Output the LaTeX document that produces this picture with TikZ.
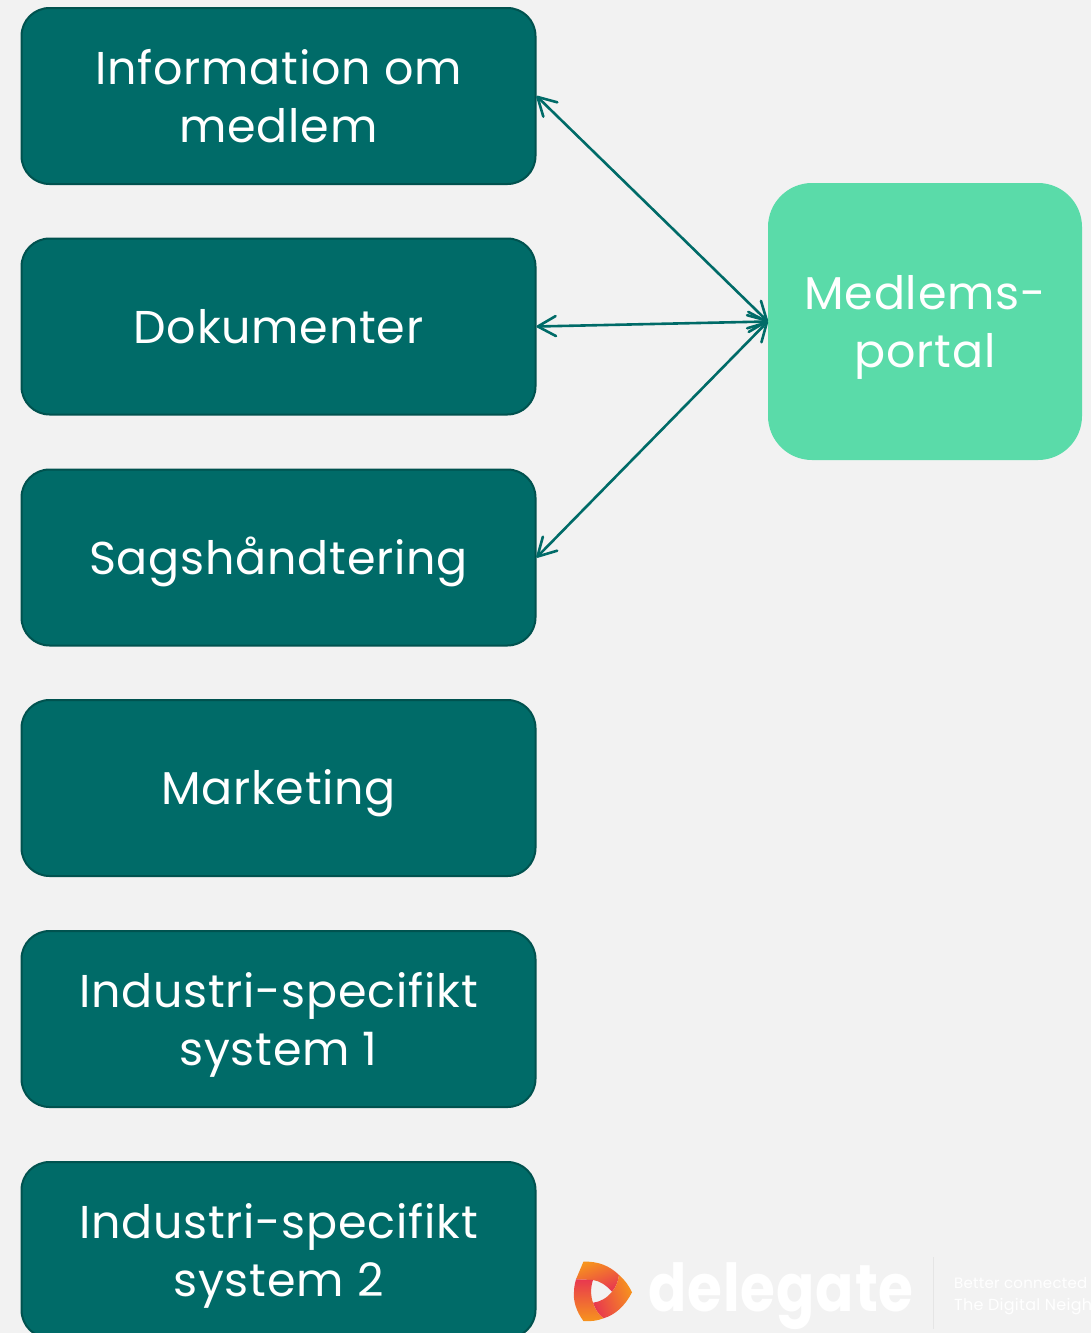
\documentclass[tikz,border=0pt]{standalone}
\usepackage{fontspec}
\setmainfont[LetterSpace=1.7]{Poppins}
\usetikzlibrary{arrows.meta}
\definecolor{bg}{HTML}{F2F2F2}
\definecolor{teal1}{HTML}{006B68}
\definecolor{teal2}{HTML}{00524F}
\definecolor{mint}{HTML}{5ADBA9}
\definecolor{lorange}{HTML}{F7941D}
\definecolor{lred}{HTML}{E8384F}
\newcommand{\linestrut}{\rule[-12pt]{0pt}{58pt}}
\tikzset{
  labeltext/.style={text=white,align=center,font=\fontsize{46}{58}\selectfont,execute at end node=\linestrut},
  box/.style={labeltext,draw=teal2,line width=2pt,fill=teal1,rounded corners=28pt,minimum width=514pt,minimum height=176pt,inner sep=0pt},
  portal/.style={labeltext,fill=mint,rounded corners=44pt,minimum width=314pt,minimum height=277pt,inner sep=0pt},
  link/.style={draw=teal1,line width=2.6pt,{Straight Barb[length=18pt,width=20pt,line width=2.6pt,round]}-{Straight Barb[length=18pt,width=20pt,line width=2.6pt,round]}},
  swirl/.style={shading=axis,left color=lorange,right color=lred}
}
\begin{document}
\begin{tikzpicture}[x=1pt,y=-1pt]
\useasboundingbox (0,0) rectangle (1091,1333);
\clip (0,0) rectangle (1091,1333);
\fill[bg] (0,0) rectangle (1091,1333);
\node[box] (a) at (278.5,96) {\linestrut Information om\\medlem};
\node[box] (b) at (278.5,326.5) {Dokumenter};
\node[box] (c) at (278.5,557.5) {Sagshåndtering};
\node[box] (d) at (278.5,788) {Marketing};
\node[box] (e) at (278.5,1019) {\linestrut Industri-specifikt\\system 1};
\node[box] (f) at (278.5,1250) {\linestrut Industri-specifikt\\system 2};
\node[portal] (p) at (925,321.5) {\linestrut Medlems-\\portal};
\draw[link] (a.east) -- (p.west);
\draw[link] (b.east) -- (p.west);
\draw[link] (c.east) -- (p.west);
% logo
\path[swirl,shading angle=20] (576,1279.3) -- (583.4,1261.7) .. controls (598,1261) and (610,1266) .. (619,1275) .. controls (618,1282) and (616,1287) .. (612,1291.7) .. controls (606,1285) and (600,1281) .. (593,1280) -- cycle;
\path[swirl,shading angle=-70] (619,1275) .. controls (625,1280) and (629,1286) .. (632,1292.3) .. controls (625,1306) and (615,1315) .. (603.4,1318.3) .. controls (598,1314) and (595,1309) .. (593,1302.7) .. controls (600,1302) and (607,1298) .. (612,1291.7) .. controls (616,1287) and (618,1282) .. (619,1275) -- cycle;
\path[shading=axis,top color=lred,bottom color=lorange] (576,1279.3) -- (593,1280) .. controls (590.5,1287) and (590.5,1296) .. (593,1302.7) .. controls (595,1309) and (598,1314) .. (603.4,1318.3) .. controls (597,1321) and (590,1321.5) .. (583.4,1321) .. controls (576,1311) and (573,1300) .. (574,1291.7) .. controls (574,1287) and (575,1283) .. (576,1279.3) -- cycle;
\node[anchor=base west,inner sep=0pt,text=white,font=\fontsize{66}{66}\selectfont\bfseries] (logo) at (648,1311) {\scalebox{.855}[1]{delegate}};
\coordinate (dt) at (933,1257);
\coordinate (db) at (933,1329);
\draw[color=white!90!black,line width=1pt] (dt) -- (db);
\node[anchor=base west,inner sep=0pt,text=white,font=\fontsize{15}{15}\selectfont] (t1) at (954,1288) {Better connected};
\node[anchor=base west,inner sep=0pt,text=white,font=\fontsize{16}{16}\selectfont] (t2) at (954,1310) {The Digital Neigh};
\end{tikzpicture}
\end{document}
